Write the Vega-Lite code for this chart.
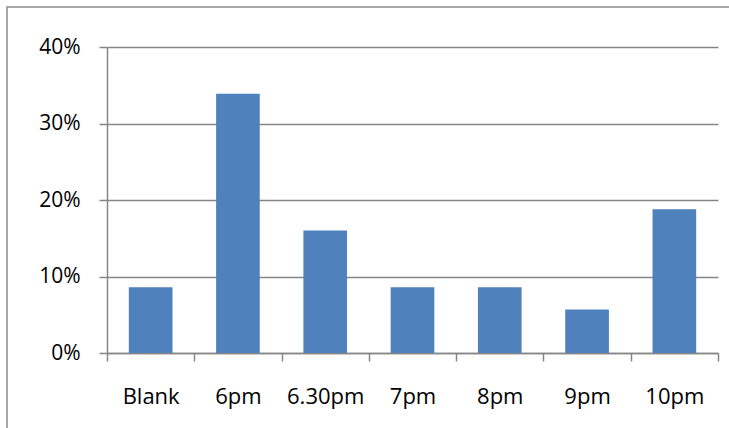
{
  "$schema": "https://vega.github.io/schema/vega-lite/v6.json",
  "autosize": "none",
  "width": 725,
  "height": 424,
  "padding": {"left": 7, "top": 7, "right": -3, "bottom": -3},
  "background": "white",
  "config": {"view": {"stroke": "#8c8c8c", "strokeWidth": 1.5}},
  "data": {"values": [
    {"time": "Blank", "pct": 0.086},
    {"time": "6pm", "pct": 0.339},
    {"time": "6.30pm", "pct": 0.16},
    {"time": "7pm", "pct": 0.086},
    {"time": "8pm", "pct": 0.086},
    {"time": "9pm", "pct": 0.057},
    {"time": "10pm", "pct": 0.188}
  ]},
  "mark": {"type": "bar", "color": "#4F81BD", "width": {"band": 0.5}},
  "encoding": {
    "x": {
      "field": "time", "type": "nominal", "sort": null,
      "scale": {"range": [100, 711], "paddingInner": 0, "paddingOuter": 0},
      "axis": {
        "title": null, "labelAngle": 0, "offset": -78, "tickBand": "extent",
        "domainColor": "#868686", "tickColor": "#868686", "tickSize": 8,
        "domainWidth": 1.5, "tickWidth": 1.5,
        "labelFont": "Open Sans", "labelFontSize": 22, "labelColor": "#000",
        "labelPadding": 25, "grid": false
      }
    },
    "y": {
      "field": "pct", "type": "quantitative",
      "scale": {"domain": [0, 0.4], "range": [346, 40]},
      "axis": {
        "title": null, "format": ".0%", "values": [0, 0.1, 0.2, 0.3, 0.4], "offset": -100,
        "domainColor": "#868686", "tickColor": "#868686", "tickSize": 8,
        "domainWidth": 1.5, "tickWidth": 1.5,
        "gridColor": "#868686", "gridWidth": 1.5, "gridOpacity": 1,
        "labelFont": "Open Sans", "labelFontSize": 21, "labelColor": "#000",
        "labelPadding": 19
      }
    }
  }
}
